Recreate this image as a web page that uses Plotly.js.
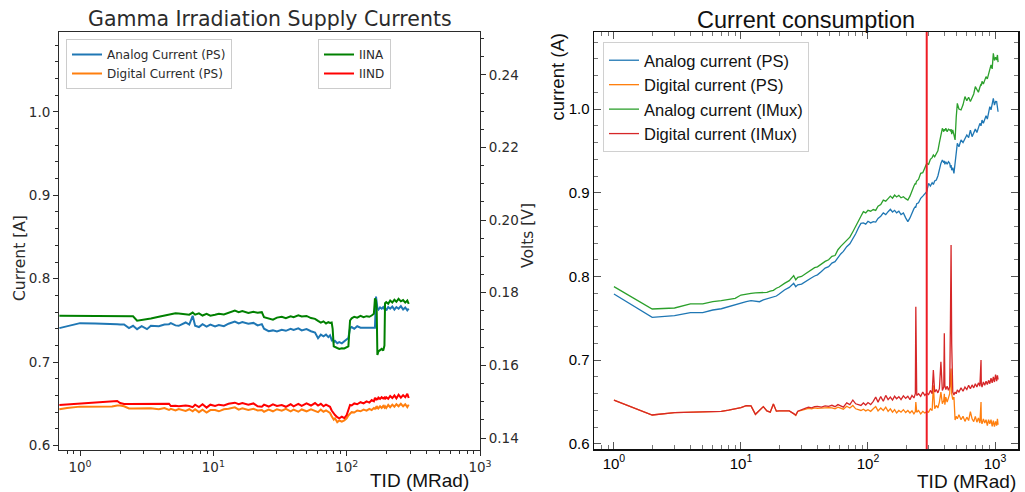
<!DOCTYPE html>
<html>
<head>
<meta charset="utf-8">
<script src="https://cdn.plot.ly/plotly-3.0.1.min.js"></script>
<style>html,body{margin:0;padding:0;background:#fff;}#chart{width:1025px;height:492px;}</style>
</head>
<body>
<div id="chart"></div>
<script>
// ---------- Left panel: Gamma Irradiation Supply Currents ----------
const leftDose = [0.70, 0.8, 1.0, 1.3, 1.74, 1.9, 2.0, 2.14, 2.33, 2.5,
 2.68, 2.9, 3.18, 3.4, 3.9, 4.3, 4.65, 4.8, 5.2, 5.5,
 6.2, 6.6, 7.0, 7.3, 7.8, 8.3, 8.9, 9.5, 10.3, 11.0,
 12.0, 13.0, 14.5, 15.5, 16.5, 18.3, 20, 21.5, 23.1, 24,
 26, 28, 30, 32.6, 35, 38, 40, 43.4, 46, 50,
 54, 57.9, 61, 64, 67, 70, 72.9, 75, 77.2, 78.5,
 80, 81.8, 85, 88, 92, 96, 100, 103, 106, 109,
 114, 120, 127, 134, 141, 148, 154, 160, 163, 166,
 168, 170, 173, 178, 183, 188, 192, 194, 198, 205,
 212, 220, 228, 236, 245, 255, 265, 275, 285, 292];

const leftAnalogPS = [0.7407, 0.7430, 0.7467, 0.7462, 0.7460, 0.7455, 0.7450, 0.7452, 0.7407, 0.7435,
 0.7395, 0.7430, 0.7395, 0.7435, 0.7430, 0.7450, 0.7455, 0.7467, 0.7440, 0.7435,
 0.7475, 0.7450, 0.7555, 0.7435, 0.7420, 0.7455, 0.7425, 0.7450, 0.7427, 0.7445,
 0.7430, 0.7460, 0.7487, 0.7465, 0.7480, 0.7460, 0.7470, 0.7440, 0.7455, 0.7400,
 0.7370, 0.7380, 0.7367, 0.7387, 0.7375, 0.7400, 0.7385, 0.7405, 0.7380, 0.7395,
 0.7370, 0.7354, 0.7286, 0.7330, 0.7310, 0.7330, 0.7300, 0.7320, 0.7266, 0.7280,
 0.7240, 0.7255, 0.7227, 0.7240, 0.7225, 0.7250, 0.7270, 0.7290, 0.7407, 0.7420,
 0.7400, 0.7430, 0.7413, 0.7413, 0.7413, 0.7413, 0.7413, 0.7413, 0.7413, 0.7786,
 0.7700, 0.7646, 0.7630, 0.7655, 0.7640, 0.7660, 0.7635, 0.7650, 0.7620, 0.7660,
 0.7640, 0.7665, 0.7630, 0.7660, 0.7640, 0.7670, 0.7630, 0.7655, 0.7620, 0.7640];

const leftDigitalPS = [0.6434, 0.6450, 0.6466, 0.6466, 0.6468, 0.6480, 0.6480, 0.6470, 0.6444, 0.6445,
 0.6444, 0.6446, 0.6440, 0.6446, 0.6434, 0.6450, 0.6426, 0.6440, 0.6420, 0.6438,
 0.6415, 0.6435, 0.6410, 0.6435, 0.6400, 0.6430, 0.6395, 0.6425, 0.6426, 0.6410,
 0.6435, 0.6440, 0.6458, 0.6430, 0.6445, 0.6426, 0.6440, 0.6420, 0.6426, 0.6405,
 0.6430, 0.6410, 0.6435, 0.6418, 0.6440, 0.6410, 0.6430, 0.6405, 0.6432, 0.6410,
 0.6435, 0.6420, 0.6400, 0.6430, 0.6405, 0.6420, 0.6400, 0.6390, 0.6350, 0.6330,
 0.6310, 0.6326, 0.6280, 0.6300, 0.6286, 0.6300, 0.6326, 0.6360, 0.6386, 0.6400,
 0.6395, 0.6420, 0.6410, 0.6430, 0.6418, 0.6440, 0.6425, 0.6450, 0.6440, 0.6458,
 0.6440, 0.6460, 0.6445, 0.6470, 0.6450, 0.6475, 0.6455, 0.6470, 0.6450, 0.6486,
 0.6460, 0.6490, 0.6465, 0.6495, 0.6470, 0.6500, 0.6470, 0.6495, 0.6460, 0.6490];

// IINA / IIND in volts (right axis)
const leftIINA = [0.17369, 0.17369, 0.17366, 0.17364, 0.17362, 0.17362, 0.17362, 0.17359, 0.17357, 0.17350,
 0.17231, 0.17247, 0.17270, 0.17293, 0.17339, 0.17373, 0.17401, 0.17414, 0.17435, 0.17431,
 0.17408, 0.17396, 0.17454, 0.17396, 0.17431, 0.17373, 0.17419, 0.17369, 0.17393, 0.17419,
 0.17401, 0.17454, 0.17509, 0.17465, 0.17493, 0.17442, 0.17476, 0.17447, 0.17465, 0.17327,
 0.17293, 0.17258, 0.17316, 0.17339, 0.17300, 0.17350, 0.17327, 0.17378, 0.17346, 0.17362,
 0.17304, 0.17281, 0.17224, 0.17178, 0.17213, 0.17155, 0.17190, 0.17167, 0.17178, 0.17006,
 0.16524, 0.16515, 0.16478, 0.16455, 0.16474, 0.16467, 0.16501, 0.16524, 0.17236, 0.17295,
 0.17339, 0.17316, 0.17362, 0.17327, 0.17355, 0.17339, 0.17373, 0.17419, 0.17846, 0.17786,
 0.17511, 0.16285, 0.16386, 0.16423, 0.16455, 0.16409, 0.16547, 0.17711, 0.17740, 0.17695,
 0.17786, 0.17729, 0.17809, 0.17752, 0.17832, 0.17763, 0.17798, 0.17729, 0.17786, 0.17695];

const leftIIND = [0.14908, 0.14922, 0.14941, 0.14975, 0.15009, 0.15019, 0.14963, 0.14936, 0.14936, 0.14936,
 0.14936, 0.14936, 0.14936, 0.14936, 0.14936, 0.14941, 0.14945, 0.14881, 0.14890, 0.14872,
 0.14895, 0.14883, 0.14849, 0.14918, 0.14853, 0.14929, 0.14837, 0.14918, 0.14881, 0.14918,
 0.14895, 0.14941, 0.14973, 0.14929, 0.14963, 0.14918, 0.14952, 0.14872, 0.14862, 0.14918,
 0.14867, 0.14929, 0.14883, 0.14908, 0.14860, 0.14929, 0.14872, 0.14941, 0.14883, 0.14952,
 0.14895, 0.14963, 0.14895, 0.14941, 0.14872, 0.14918, 0.14883, 0.14860, 0.14757, 0.14711,
 0.14665, 0.14633, 0.14573, 0.14541, 0.14585, 0.14550, 0.14633, 0.14757, 0.14908, 0.14895,
 0.14952, 0.14929, 0.14986, 0.14952, 0.15009, 0.14975, 0.15044, 0.15009, 0.15110, 0.15067,
 0.15101, 0.15055, 0.15113, 0.15078, 0.15124, 0.15090, 0.15113, 0.15067, 0.15124, 0.15078,
 0.15156, 0.15101, 0.15170, 0.15090, 0.15193, 0.15113, 0.15181, 0.15124, 0.15216, 0.15101];

// ---------- Right panel: Current consumption ----------
const rightDose = [1, 2, 3, 4, 5, 6, 7, 8, 9, 10,
 11, 12, 13, 14, 15, 16, 17, 18, 19, 20,
 22, 24, 26, 27, 28, 30, 32, 34, 36, 38,
 40, 43, 46, 49, 52, 55, 58, 61, 64, 68,
 72, 76, 80, 84, 88, 92, 96, 100, 105, 110,
 115, 120, 126, 132, 138, 144, 150, 156, 162, 168,
 175, 182, 190, 198, 206, 214, 222, 230, 236, 238,
 240, 242, 250, 260, 270, 280, 290, 300, 310, 320,
 327, 335, 345, 355, 365, 375, 385, 395, 399, 403,
 410, 420, 430, 440, 446, 451, 456, 465, 475, 485,
 495, 505, 520, 540, 560, 580, 600, 620, 640, 660,
 680, 700, 720, 740, 760, 776, 780, 790, 810, 830,
 850, 870, 890, 910, 930, 950, 970, 990, 1010, 1030,
 1045, 1057];

const rightAnalogPS = [0.7791, 0.7512, 0.7532, 0.7568, 0.7568, 0.7600, 0.7615, 0.7640, 0.7660, 0.7688,
 0.7700, 0.7711, 0.7705, 0.7699, 0.7720, 0.7731, 0.7745, 0.7755, 0.7767, 0.7790,
 0.7839, 0.7870, 0.7918, 0.7879, 0.7900, 0.7910, 0.7940, 0.7966, 0.7985, 0.8006,
 0.8020, 0.8060, 0.8100, 0.8117, 0.8160, 0.8177, 0.8230, 0.8269, 0.8300, 0.8356,
 0.8390, 0.8444, 0.8510, 0.8580, 0.8635, 0.8640, 0.8625, 0.8660, 0.8640, 0.8655,
 0.8650, 0.8694, 0.8720, 0.8760, 0.8740, 0.8774, 0.8802, 0.8770, 0.8790, 0.8760,
 0.8780, 0.8740, 0.8760, 0.8700, 0.8655, 0.8700, 0.8760, 0.8810, 0.8834, 0.8830,
 0.8850, 0.8870, 0.8880, 0.8934, 0.8960, 0.8990, 0.9013, 0.9113, 0.9080, 0.9120,
 0.9100, 0.9140, 0.9152, 0.9200, 0.9300, 0.9350, 0.9391, 0.9360, 0.9380, 0.9340,
 0.9370, 0.9340, 0.9370, 0.9351, 0.9300, 0.9330, 0.9270, 0.9300, 0.9232, 0.9350,
 0.9480, 0.9590, 0.9550, 0.9630, 0.9600, 0.9640, 0.9690, 0.9660, 0.9749, 0.9670,
 0.9720, 0.9760, 0.9720, 0.9790, 0.9829, 0.9800, 0.9850, 0.9869, 0.9830, 0.9880,
 0.9920, 0.9880, 0.9960, 1.0028, 0.9990, 1.0060, 1.0128, 1.0048, 1.0090, 1.0088,
 1.0030, 0.9968];

const rightDigitalPS = [0.6525, 0.6346, 0.6375, 0.6378, 0.6385, 0.6388, 0.6390, 0.6405, 0.6420, 0.6435,
 0.6458, 0.6455, 0.6354, 0.6400, 0.6446, 0.6395, 0.6380, 0.6478, 0.6392, 0.6395,
 0.6396, 0.6395, 0.6360, 0.6340, 0.6388, 0.6398, 0.6415, 0.6425, 0.6420, 0.6430,
 0.6425, 0.6430, 0.6428, 0.6435, 0.6430, 0.6420, 0.6440, 0.6425, 0.6415, 0.6450,
 0.6430, 0.6460, 0.6420, 0.6410, 0.6400, 0.6415, 0.6395, 0.6410, 0.6390, 0.6420,
 0.6446, 0.6395, 0.6430, 0.6400, 0.6440, 0.6390, 0.6420, 0.6380, 0.6410, 0.6370,
 0.6400, 0.6380, 0.6410, 0.6375, 0.6400, 0.6370, 0.6395, 0.6360, 0.6386, 0.6500,
 0.6380, 0.6380, 0.6400, 0.6360, 0.6390, 0.6370, 0.6386, 0.6380, 0.6420, 0.6400,
 0.6700, 0.6420, 0.6460, 0.6430, 0.6500, 0.6620, 0.6480, 0.6520, 0.6600, 0.6470,
 0.6560, 0.6500, 0.6550, 0.6600, 0.6800, 0.6900, 0.6600, 0.6530, 0.6560, 0.6287,
 0.6330, 0.6300, 0.6350, 0.6290, 0.6330, 0.6270, 0.6320, 0.6280, 0.6386, 0.6300,
 0.6267, 0.6330, 0.6260, 0.6310, 0.6250, 0.6500, 0.6280, 0.6240, 0.6300, 0.6250,
 0.6290, 0.6220, 0.6290, 0.6240, 0.6290, 0.6210, 0.6280, 0.6207, 0.6270, 0.6220,
 0.6300, 0.6230];

const rightAnalogIMux = [0.7879, 0.7612, 0.7624, 0.7672, 0.7672, 0.7700, 0.7711, 0.7728, 0.7740, 0.7779,
 0.7785, 0.7799, 0.7805, 0.7807, 0.7805, 0.7810, 0.7825, 0.7835, 0.7860, 0.7875,
 0.7918, 0.7950, 0.8010, 0.7960, 0.7990, 0.8000, 0.8030, 0.8058, 0.8080, 0.8105,
 0.8115, 0.8150, 0.8180, 0.8200, 0.8240, 0.8250, 0.8320, 0.8360, 0.8390, 0.8436,
 0.8470, 0.8535, 0.8600, 0.8680, 0.8720, 0.8774, 0.8760, 0.8790, 0.8780, 0.8800,
 0.8790, 0.8840, 0.8860, 0.8913, 0.8900, 0.8930, 0.8960, 0.8935, 0.8973, 0.8950,
 0.8970, 0.8940, 0.8953, 0.8930, 0.8914, 0.8960, 0.9030, 0.9080, 0.9113, 0.9100,
 0.9130, 0.9140, 0.9160, 0.9232, 0.9240, 0.9290, 0.9351, 0.9340, 0.9400, 0.9420,
 0.9450, 0.9430, 0.9471, 0.9500, 0.9600, 0.9690, 0.9770, 0.9730, 0.9760, 0.9740,
 0.9770, 0.9730, 0.9760, 0.9750, 0.9740, 0.9760, 0.9700, 0.9750, 0.9690, 0.9631,
 0.9900, 1.0068, 1.0000, 0.9989, 1.0050, 1.0148, 1.0100, 1.0140, 1.0090, 1.0128,
 1.0180, 1.0267, 1.0230, 1.0200, 1.0260, 1.0300, 1.0280, 1.0330, 1.0300, 1.0350,
 1.0387, 1.0360, 1.0430, 1.0470, 1.0527, 1.0480, 1.0665, 1.0580, 1.0620, 1.0586,
 1.0646, 1.0560];

const rightDigitalIMux = [0.6525, 0.6346, 0.6375, 0.6378, 0.6385, 0.6388, 0.6390, 0.6405, 0.6420, 0.6435,
 0.6458, 0.6455, 0.6354, 0.6400, 0.6446, 0.6395, 0.6380, 0.6478, 0.6392, 0.6395,
 0.6396, 0.6395, 0.6362, 0.6345, 0.6392, 0.6405, 0.6425, 0.6440, 0.6432, 0.6445,
 0.6450, 0.6440, 0.6455, 0.6450, 0.6462, 0.6445, 0.6470, 0.6455, 0.6440, 0.6490,
 0.6470, 0.6525, 0.6480, 0.6470, 0.6460, 0.6490, 0.6465, 0.6495, 0.6470, 0.6510,
 0.6560, 0.6500, 0.6566, 0.6510, 0.6580, 0.6530, 0.6560, 0.6525, 0.6570, 0.6540,
 0.6565, 0.6530, 0.6575, 0.6545, 0.6570, 0.6530, 0.6580, 0.6550, 0.6600, 0.7640,
 0.6590, 0.6580, 0.6600, 0.6570, 0.6620, 0.6580, 0.6605, 0.6590, 0.6640, 0.6600,
 0.6884, 0.6620, 0.6650, 0.6610, 0.6660, 0.6982, 0.6640, 0.6680, 0.7322, 0.6700,
 0.6650, 0.6690, 0.6640, 0.6685, 0.7500, 0.8376, 0.7200, 0.6620, 0.6586, 0.6620,
 0.6600, 0.6646, 0.6620, 0.6670, 0.6630, 0.6680, 0.6650, 0.6700, 0.6660, 0.6705,
 0.6670, 0.6720, 0.6680, 0.6730, 0.6690, 0.7003, 0.6720, 0.6680, 0.6740, 0.6700,
 0.6750, 0.6710, 0.6760, 0.6720, 0.6785, 0.6730, 0.6800, 0.6740, 0.6830, 0.6750,
 0.6820, 0.6770];

const markerDose = 290;   // vertical red marker (MRad)

const decadeVals = [1, 10, 100, 1000];
const decadeText = ['10<sup>0</sup>', '10<sup>1</sup>', '10<sup>2</sup>', '10<sup>3</sup>'];
const minorLogVals = [0.8, 0.9, 2, 3, 4, 5, 6, 7, 8, 9, 20, 30, 40, 50, 60, 70, 80, 90,
  200, 300, 400, 500, 600, 700, 800, 900, 2000];

// ---------- Layout geometry (pixels -> paper) ----------
const W = 1025, H = 492;
const px = v => v / W, py = v => 1 - v / H;

const DV = 'DejaVu Sans', LS = 'Liberation Sans, Arial, sans-serif';
const gray = '#2b2b2b';

const traces = [
  {x: leftDose, y: leftAnalogPS, xaxis: 'x', yaxis: 'y', type: 'scatter', mode: 'lines',
   name: 'Analog Current (PS)', line: {color: '#1f77b4', width: 2}, legend: 'legend'},
  {x: leftDose, y: leftDigitalPS, xaxis: 'x', yaxis: 'y', type: 'scatter', mode: 'lines',
   name: 'Digital Current (PS)', line: {color: '#ff7f0e', width: 2}, legend: 'legend'},
  {x: leftDose, y: leftIINA, xaxis: 'x', yaxis: 'y2', type: 'scatter', mode: 'lines',
   name: 'IINA', line: {color: '#008000', width: 2}, legend: 'legend2'},
  {x: leftDose, y: leftIIND, xaxis: 'x', yaxis: 'y2', type: 'scatter', mode: 'lines',
   name: 'IIND', line: {color: '#ff0000', width: 2}, legend: 'legend2'},

  {x: rightDose, y: rightAnalogPS, xaxis: 'x2', yaxis: 'y3', type: 'scatter', mode: 'lines',
   name: 'Analog current (PS)', line: {color: '#1f77b4', width: 1.3}, legend: 'legend3'},
  {x: rightDose, y: rightDigitalPS, xaxis: 'x2', yaxis: 'y3', type: 'scatter', mode: 'lines',
   name: 'Digital current (PS)', line: {color: '#ff7f0e', width: 1.3}, legend: 'legend3'},
  {x: rightDose, y: rightAnalogIMux, xaxis: 'x2', yaxis: 'y3', type: 'scatter', mode: 'lines',
   name: 'Analog current (IMux)', line: {color: '#2ca02c', width: 1.3}, legend: 'legend3'},
  {x: rightDose, y: rightDigitalIMux, xaxis: 'x2', yaxis: 'y3', type: 'scatter', mode: 'lines',
   name: 'Digital current (IMux)', line: {color: '#d62728', width: 1.3}, legend: 'legend3'}
];

const leftTickFont = {family: DV, size: 13.5, color: gray};
const rightTickFont = {family: LS, size: 15, color: '#000'};

const layout = {
  width: W, height: H,
  margin: {l: 0, r: 0, t: 0, b: 0, pad: 0},
  paper_bgcolor: '#fff', plot_bgcolor: '#fff',
  showlegend: true,
  xaxis: {
    domain: [px(59), px(480)], anchor: 'y', type: 'log', range: [-0.1575, 3],
    showline: true, linecolor: gray, linewidth: 1, mirror: true,
    ticks: 'outside', ticklen: 5, tickwidth: 1, tickcolor: gray,
    tickvals: decadeVals, ticktext: decadeText, tickfont: leftTickFont,
    minor: {tickvals: minorLogVals, ticks: 'outside', ticklen: 3, tickcolor: gray, showgrid: false},
    showgrid: false, zeroline: false
  },
  yaxis: {
    domain: [1 - 450 / H, 1 - 32 / H], anchor: 'x', range: [0.5946, 1.0958],
    showline: true, linecolor: gray, linewidth: 1,
    ticks: 'outside', ticklen: 5, tickcolor: gray, tick0: 0.6, dtick: 0.1, tickformat: '.1f',
    tickfont: leftTickFont,
    minor: {tick0: 0.6, dtick: 0.02, ticks: 'outside', ticklen: 3, tickcolor: gray, showgrid: false},
    showgrid: false, zeroline: false
  },
  yaxis2: {
    overlaying: 'y', side: 'right', anchor: 'x', range: [0.1367, 0.2518],
    showline: true, linecolor: gray, linewidth: 1,
    ticks: 'outside', ticklen: 5, tickcolor: gray, tick0: 0.14, dtick: 0.02, tickformat: '.2f',
    tickfont: leftTickFont,
    minor: {tick0: 0.14, dtick: 0.005, ticks: 'outside', ticklen: 3, tickcolor: gray, showgrid: false},
    showgrid: false, zeroline: false
  },
  xaxis2: {
    domain: [px(594), px(1018)], anchor: 'y3', type: 'log', range: [-0.157, 3.181],
    showline: true, linecolor: '#111', linewidth: 1.5, mirror: 'allticks',
    ticks: 'inside', ticklen: 7, tickwidth: 1, tickcolor: '#555',
    tickvals: decadeVals, ticktext: decadeText, tickfont: rightTickFont,
    minor: {tickvals: minorLogVals, ticks: 'inside', ticklen: 4, tickcolor: '#777', showgrid: false},
    showgrid: false, zeroline: false
  },
  yaxis3: {
    domain: [1 - 449 / H, 1 - 32 / H], anchor: 'x2', range: [0.594, 1.092],
    showline: true, linecolor: '#111', linewidth: 1.5, mirror: 'allticks',
    ticks: 'inside', ticklen: 7, tickwidth: 1, tickcolor: '#555', tick0: 0.6, dtick: 0.1, tickformat: '.1f',
    tickfont: rightTickFont,
    minor: {tick0: 0.6, dtick: 0.02, ticks: 'inside', ticklen: 4, tickcolor: '#777', showgrid: false},
    showgrid: false, zeroline: false
  },
  legend: {
    x: px(66), y: py(39), xanchor: 'left', yanchor: 'top',
    bgcolor: 'rgba(255,255,255,0.8)', bordercolor: '#cccccc', borderwidth: 1,
    font: {family: DV, size: 12, color: gray}, itemwidth: 30, tracegroupgap: 0
  },
  legend2: {
    x: px(318), y: py(39), xanchor: 'left', yanchor: 'top',
    bgcolor: 'rgba(255,255,255,0.8)', bordercolor: '#cccccc', borderwidth: 1,
    font: {family: DV, size: 12, color: gray}, itemwidth: 30
  },
  legend3: {
    x: px(603), y: py(42), xanchor: 'left', yanchor: 'top',
    bgcolor: 'rgba(255,255,255,0.8)', bordercolor: '#d0d0d0', borderwidth: 1,
    font: {family: LS, size: 16.5, color: '#111'}, itemwidth: 30
  },
  shapes: [{
    type: 'line', xref: 'x2', yref: 'y3 domain', x0: markerDose, x1: markerDose, y0: 0, y1: 1,
    line: {color: '#ee1c25', width: 2}
  }],
  annotations: [
    {text: 'Gamma Irradiation Supply Currents', xref: 'paper', yref: 'paper',
     x: px(269.5), y: py(19), xanchor: 'center', yanchor: 'middle', showarrow: false,
     font: {family: DV, size: 20.5, color: gray}},
    {text: 'Current consumption', xref: 'paper', yref: 'paper',
     x: px(806), y: py(20), xanchor: 'center', yanchor: 'middle', showarrow: false,
     font: {family: LS, size: 23.5, color: '#111'}},
    {text: 'Current [A]', xref: 'paper', yref: 'paper', textangle: -90,
     x: px(20), y: py(258), xanchor: 'center', yanchor: 'middle', showarrow: false,
     font: {family: DV, size: 15.5, color: gray}},
    {text: 'Volts [V]', xref: 'paper', yref: 'paper', textangle: -90,
     x: px(528), y: py(236), xanchor: 'center', yanchor: 'middle', showarrow: false,
     font: {family: DV, size: 15.5, color: gray}},
    {text: 'TID (MRad)', xref: 'paper', yref: 'paper',
     x: px(471), y: py(480), xanchor: 'right', yanchor: 'middle', showarrow: false,
     font: {family: LS, size: 19, color: '#111'}},
    {text: 'TID (MRad)', xref: 'paper', yref: 'paper',
     x: px(1018), y: py(481), xanchor: 'right', yanchor: 'middle', showarrow: false,
     font: {family: LS, size: 19, color: '#111'}},
    {text: 'current (A)', xref: 'paper', yref: 'paper', textangle: -90,
     x: px(557), y: py(32), xanchor: 'center', yanchor: 'top', showarrow: false,
     font: {family: LS, size: 18.5, color: '#111'}}
  ]
};

Plotly.newPlot('chart', traces, layout, {displayModeBar: false, staticPlot: true});
</script>
</body>
</html>
